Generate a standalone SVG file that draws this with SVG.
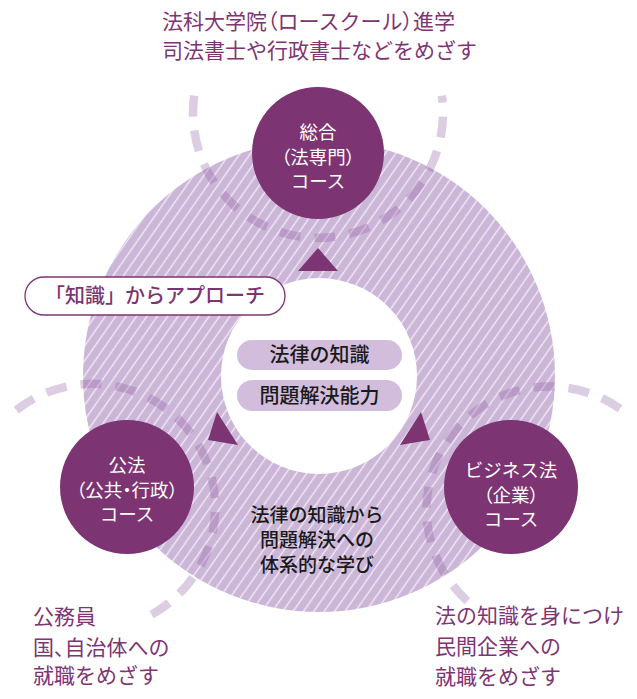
<svg xmlns="http://www.w3.org/2000/svg" width="637" height="699" viewBox="0 0 637 699">
<style>
.jp{font-family:"Noto Sans CJK JP","Noto Sans",sans-serif}
.outer{font-size:21px;fill:#7e3573}
.node{fill:#7d3472}
.nlabel{font-size:18.5px;fill:#ffffff;text-anchor:middle}
.pal{font-feature-settings:"palt"}
.dash{fill:none;stroke:#8e5aa0;stroke-opacity:0.3;stroke-width:8.5;stroke-dasharray:21 14}
.tri{fill:#7d3472}
.pill{fill:#d2bddc}
.ptext{font-size:20px;fill:#1a1a1a;text-anchor:middle;font-weight:500}
.ctext{font-size:19px;fill:#1a1a1a;text-anchor:middle;font-weight:500}
</style>
<defs>
<pattern id="hatch" patternUnits="userSpaceOnUse" width="8.5" height="10" patternTransform="rotate(35)">
<rect width="8.5" height="10" fill="#ccb6d8"/>
<line x1="4.25" y1="0" x2="4.25" y2="10" stroke="#ffffff" stroke-width="1.3" stroke-opacity="0.75"/>
</pattern>
</defs>
<rect width="637" height="699" fill="#ffffff"/>

<g id="ring">
<circle cx="319" cy="376" r="236" fill="url(#hatch)"/>
<circle cx="319" cy="376" r="98" fill="#ffffff"/>
</g>

<g id="connectors">
<path class="dash" d="M194.2,95.6 A125,125 0 1 0 441.8,95.6"/>
<path class="dash" d="M16.3,410.1 A123,123 0 1 1 147.8,616.6"/>
<path class="dash" d="M620,408.7 A123,123 0 0 0 472,605"/>
<polygon class="tri" points="318,248 298,271 338,271"/>
<polygon class="tri" points="217,412 208,440 238,445"/>
<polygon class="tri" points="421,412 430,440 400,445"/>
</g>

<g id="node-top">
<circle class="node" cx="318" cy="153" r="66"/>
<text class="jp nlabel" x="318" y="139">総合</text>
<text class="jp nlabel pal" x="318" y="164">（法専門）</text>
<text class="jp nlabel" x="318" y="188">コース</text>
</g>

<g id="node-left">
<circle class="node" cx="127" cy="487" r="67"/>
<text class="jp nlabel" x="127" y="472">公法</text>
<text class="jp nlabel pal" x="127" y="497">（公共・行政）</text>
<text class="jp nlabel" x="127" y="521">コース</text>
</g>

<g id="node-right">
<circle class="node" cx="511" cy="487" r="67"/>
<text class="jp nlabel" x="511" y="477">ビジネス法</text>
<text class="jp nlabel pal" x="511" y="502">（企業）</text>
<text class="jp nlabel" x="511" y="526">コース</text>
</g>

<g id="approach-label">
<rect x="25" y="277" width="260" height="38" rx="19" fill="#ffffff" stroke="#7d3472" stroke-width="1.3"/>
<text class="jp" x="155" y="303" font-size="20" fill="#7d3472" text-anchor="middle" font-weight="500">「知識」からアプローチ</text>
</g>

<g id="center">
<rect class="pill" x="237" y="340" width="165" height="30" rx="15"/>
<text class="jp ptext" x="319.5" y="362">法律の知識</text>
<rect class="pill" x="237" y="380" width="165" height="31" rx="15.5"/>
<text class="jp ptext" x="319.5" y="403">問題解決能力</text>
</g>

<g id="center-bottom">
<text class="jp ctext" x="317" y="522">法律の知識から</text>
<text class="jp ctext" x="317" y="547">問題解決への</text>
<text class="jp ctext" x="317" y="572">体系的な学び</text>
</g>

<g id="text-top">
<text class="jp outer" x="162" y="29" style="font-feature-settings:'halt' 0"><tspan>法科大学院</tspan><tspan class="pal">（</tspan><tspan>ロースクール</tspan><tspan class="pal">）</tspan><tspan>進学</tspan></text>
<text class="jp outer" x="162" y="58">司法書士や行政書士などをめざす</text>
</g>

<g id="text-left">
<text class="jp outer" x="33" y="624">公務員</text>
<text class="jp outer" x="33" y="655"><tspan>国</tspan><tspan class="pal">、</tspan><tspan>自治体への</tspan></text>
<text class="jp outer" x="33" y="683">就職をめざす</text>
</g>

<g id="text-right">
<text class="jp outer" x="435" y="623">法の知識を身につけ</text>
<text class="jp outer" x="435" y="654">民間企業への</text>
<text class="jp outer" x="435" y="684">就職をめざす</text>
</g>
</svg>
